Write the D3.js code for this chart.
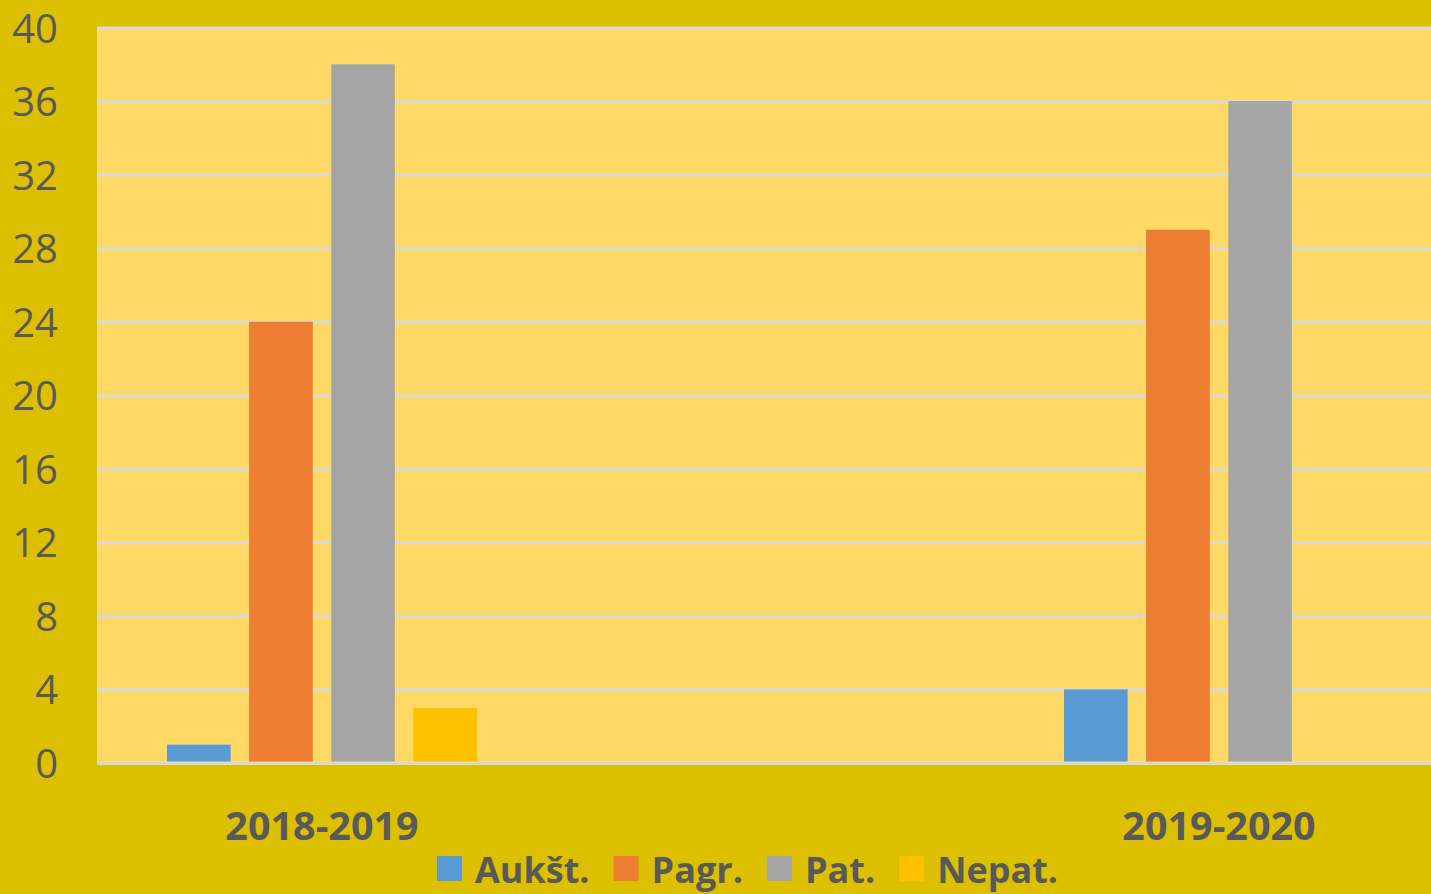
<!DOCTYPE html>
<html><head><meta charset="utf-8">
<script src="https://cdn.jsdelivr.net/npm/d3@7"></script>
<style>html,body{margin:0;padding:0;background:#dcc000;}svg{display:block;}</style>
</head><body>
<svg id="c" width="1431" height="894"></svg>
<script>
const categories = ["2018-2019", "2019-2020"];
const seriesNames = ["Aukšt.", "Pagr.", "Pat.", "Nepat."];
const aukst = [1, 4];
const pagr = [24, 29];
const pat = [38, 36];
const nepat = [3, 0];
const yTicks = [0, 4, 8, 12, 16, 20, 24, 28, 32, 36, 40];
const colors = ["#5b9bd5", "#ed7d31", "#a5a5a5", "#ffc000"];

const seriesVals = [aukst, pagr, pat, nepat];
const W = 1431, H = 894;
const svg = d3.select("#c");
const textCol = "#595959";
const font = "'Open Sans', 'Noto Sans', sans-serif";

svg.append("rect").attr("width", W).attr("height", H).attr("fill", "#dcc000");

const plotL = 97, plotR = 1431, plotT = 27, plotB = 763;
const y = d3.scaleLinear().domain([0, 40]).range([763.5, 28]);
const x0 = d3.scalePoint().domain(categories).range([322, 1219]);
const x1 = d3.scaleBand().domain(seriesNames).range([-155, 155]).paddingInner(0.225).paddingOuter(0);

svg.append("rect").attr("x", plotL).attr("y", plotT).attr("width", plotR - plotL).attr("height", plotB - plotT).attr("fill", "#ffd966");

// gridlines
svg.append("g").selectAll("line").data(yTicks.filter(d => d > 0)).join("line")
  .attr("x1", plotL).attr("x2", plotR).attr("y1", d => y(d)).attr("y2", d => y(d))
  .attr("stroke", "#d9d9d9").attr("stroke-width", 3);

// bars
const data = [];
categories.forEach((c, i) => seriesNames.forEach((s, j) => {
  if (seriesVals[j][i] > 0) data.push({c, s, v: seriesVals[j][i], col: colors[j]});
}));
svg.append("g").selectAll("rect").data(data).join("rect")
  .attr("x", d => x0(d.c) + x1(d.s))
  .attr("width", x1.bandwidth())
  .attr("y", d => y(d.v) - 0.5)
  .attr("height", d => y(0) - 1.5 - y(d.v))
  .attr("fill", d => d.col);

// zero line
svg.append("line").attr("x1", plotL).attr("x2", plotR).attr("y1", y(0)).attr("y2", y(0))
  .attr("stroke", "#d9d9d9").attr("stroke-width", 3);

// y axis
const yAxis = d3.axisLeft(y).tickValues(yTicks).tickSize(0).tickPadding(0);
const ga = svg.append("g").attr("transform", "translate(58,0)").call(yAxis);
ga.select(".domain").remove();
ga.selectAll("text").attr("fill", textCol).attr("font-family", font).attr("font-size", 40).attr("dy", "0.35em");

// x labels
svg.append("g").selectAll("text").data(categories).join("text")
  .attr("x", d => x0(d)).attr("y", 840).attr("text-anchor", "middle")
  .attr("fill", textCol).attr("font-family", font).attr("font-weight", 700).attr("font-size", 39.5)
  .text(d => d);

// legend
const lg = svg.append("g");
let lx = 437;
seriesNames.forEach((s, j) => {
  lg.append("rect").attr("x", lx).attr("y", 856).attr("width", 25).attr("height", 25).attr("fill", colors[j]);
  const t = lg.append("text").attr("x", lx + 38).attr("y", 883).attr("fill", textCol)
    .attr("font-family", font).attr("font-weight", 700).attr("font-size", 36).text(s);
  lx = lx + 38 + t.node().getComputedTextLength() + 24;
});
</script>
</body></html>
